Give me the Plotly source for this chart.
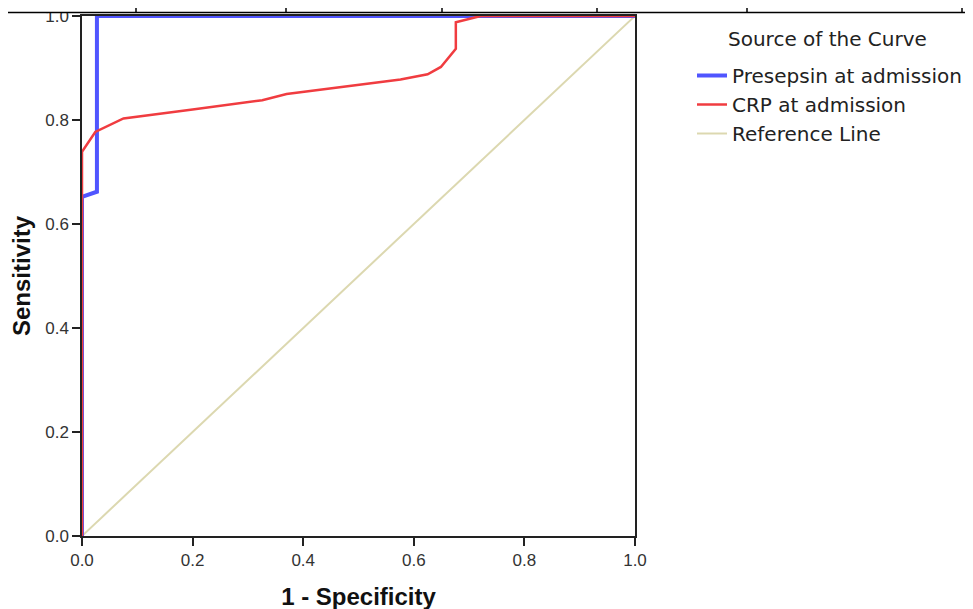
import plotly.graph_objects as go

# Data
presepsin_fpr = [0.0, 0.0, 0.027, 0.027, 1.0]
presepsin_tpr = [0.0, 0.652, 0.662, 1.0, 1.0]

crp_fpr = [0.0, 0.0, 0.024, 0.075, 0.20, 0.326, 0.37, 0.576, 0.625, 0.649, 0.676, 0.676, 0.721, 1.0]
crp_tpr = [0.0, 0.739, 0.777, 0.803, 0.82, 0.838, 0.85, 0.878, 0.888, 0.902, 0.937, 0.988, 1.0, 1.0]

ref_x = [0.0, 1.0]
ref_y = [0.0, 1.0]

tick_vals = [0.0, 0.2, 0.4, 0.6, 0.8, 1.0]
tick_text = ["0.0", "0.2", "0.4", "0.6", "0.8", "1.0"]

FONT = "Arial, Liberation Sans, sans-serif"
LEGFONT = "DejaVu Sans, Arial, sans-serif"

# page body has an 8px margin, so the figure is offset by 8px
L, T, R, B = 74, 8, 346, 81
PW, PH = 973 - L - R, 609 - T - B  # 553 x 520


def py(screen_y):
    return (609 - B - (screen_y - 8)) / PH


def px(screen_x):
    return (screen_x - 8 - L) / PW


fig = go.Figure()
fig.add_trace(go.Scatter(x=ref_x, y=ref_y, mode="lines", name="Reference Line",
                         line=dict(color="#dcd8b0", width=2), legendrank=3,
                         legendgroup="c", cliponaxis=False))
fig.add_trace(go.Scatter(x=presepsin_fpr, y=presepsin_tpr, mode="lines",
                         name="Presepsin at admission",
                         line=dict(color="#5055ff", width=4), legendrank=1,
                         legendgroup="a", cliponaxis=False))
fig.add_trace(go.Scatter(x=crp_fpr, y=crp_tpr, mode="lines", name="CRP at admission",
                         line=dict(color="#f03c40", width=2.5), legendrank=2,
                         legendgroup="b", cliponaxis=False))

fig.update_layout(
    width=973, height=609,
    margin=dict(l=L, r=R, t=T, b=B, autoexpand=False),
    paper_bgcolor="white", plot_bgcolor="white",
    font=dict(family=FONT, color="#222", size=14),
    legend=dict(x=px(692), y=py(56), xanchor="left", yanchor="top",
                font=dict(size=20, color="#222", family=LEGFONT), tracegroupgap=0,
                itemwidth=30, bgcolor="rgba(0,0,0,0)"),
    showlegend=True,
    annotations=[dict(text="Source of the Curve", xref="paper", yref="paper",
                      x=px(827), y=py(39), xanchor="center", yanchor="middle",
                      showarrow=False, font=dict(size=20, color="#222", family=LEGFONT))],
)
axis_common = dict(range=[0, 1], tickvals=tick_vals, ticktext=tick_text,
                   ticks="outside", ticklen=8, tickwidth=1.5, tickcolor="#222",
                   showline=True, linecolor="#222", linewidth=1.5, mirror=True,
                   showgrid=False, zeroline=False, ticklabeloverflow="allow",
                   tickfont=dict(size=17, color="#333", family=FONT))
fig.update_xaxes(**axis_common,
                 title=dict(text="<b>1 - Specificity</b>", font=dict(size=24, color="#111", family=FONT),
                            standoff=19))
fig.update_yaxes(**axis_common,
                 title=dict(text="<b>Sensitivity</b>", font=dict(size=24, color="#111", family=FONT),
                            standoff=12))

# table border strip at top of the image (decoration)
fig.add_shape(type="rect", xref="paper", yref="paper", x0=-0.3, x1=1.8,
              y0=py(12.5), y1=py(-10),
              fillcolor="white", line=dict(width=0), layer="above")
fig.add_shape(type="line", xref="paper", yref="paper", x0=-0.3, x1=1.8,
              y0=py(12.5), y1=py(12.5),
              line=dict(color="black", width=1.5), layer="above")
for sx in [136, 286, 442, 597, 747, 962]:
    fig.add_shape(type="line", xref="paper", yref="paper", x0=px(sx), x1=px(sx),
                  y0=py(12.5), y1=py(-10),
                  line=dict(color="black", width=1.5), layer="above")

fig.write_html("out.html")
